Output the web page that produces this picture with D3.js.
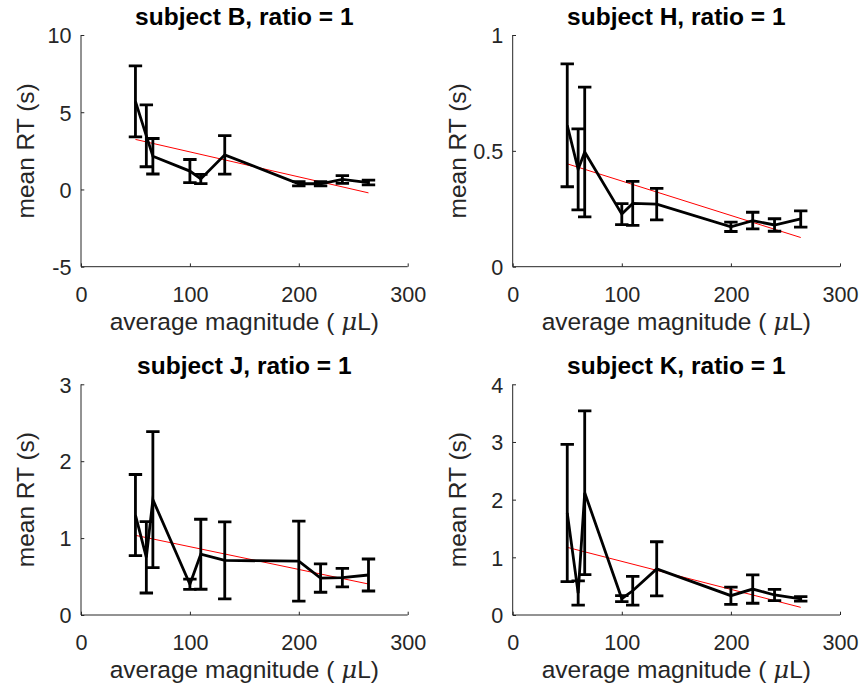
<!DOCTYPE html>
<html>
<head>
<meta charset="utf-8">
<script src="https://cdn.jsdelivr.net/npm/d3@7"></script>
<style>
  html, body { margin: 0; padding: 0; background: #fff; }
  svg { display: block; font-family: "Liberation Sans", Arial, Helvetica, sans-serif; }
</style>
</head>
<body>
<svg id="chart" width="861" height="696"></svg>
<script>
// ---- data ----
const magnitudes = [50, 60, 66, 100, 110, 132, 200, 220, 240, 264];
const subjects = ["B", "H", "J", "K"];

const meanB = [5.7, 3.47, 2.15, 1.19, 0.68, 2.24, 0.37, 0.37, 0.65, 0.45];
const errB  = [2.3, 2.0, 1.15, 0.75, 0.3, 1.25, 0.14, 0.14, 0.25, 0.15];
const fitB  = [3.24, -0.22];

const meanH = [0.61, 0.42, 0.495, 0.227, 0.273, 0.27, 0.172, 0.199, 0.18, 0.206];
const errH  = [0.265, 0.175, 0.28, 0.045, 0.095, 0.068, 0.02, 0.036, 0.027, 0.035];
const fitH  = [0.444, 0.126];

const meanJ = [1.30, 0.75, 1.50, 0.40, 0.79, 0.71, 0.70, 0.48, 0.486, 0.52];
const errJ  = [0.527, 0.464, 0.884, 0.067, 0.455, 0.50, 0.52, 0.184, 0.12, 0.208];
const fitJ  = [1.036, 0.403];

const meanK = [1.77, 0.38, 2.12, 0.283, 0.42, 0.80, 0.335, 0.45, 0.347, 0.28];
const errK  = [1.19, 0.21, 1.42, 0.052, 0.25, 0.47, 0.15, 0.246, 0.098, 0.038];
const fitK  = [1.173, 0.133];

const xTicks = [0, 100, 200, 300];
const xDomain = [0, 300];
const yDomains = [[-5, 10], [0, 1], [0, 3], [0, 4]];
const yTicks = [[-5, 0, 5, 10], [0, 0.5, 1], [0, 1, 2, 3], [0, 1, 2, 3, 4]];
const yTickLabels = [["-5", "0", "5", "10"], ["0", "0.5", "1"], ["0", "1", "2", "3"], ["0", "1", "2", "3", "4"]];

const means = [meanB, meanH, meanJ, meanK];
const errs = [errB, errH, errJ, errK];
const fits = [fitB, fitH, fitJ, fitK];

// ---- layout ----
const panels = [
  { left: 81, right: 407.7, top: 35, bottom: 266.7 },
  { left: 512.7, right: 840, top: 35, bottom: 266.7 },
  { left: 81, right: 407.7, top: 384.3, bottom: 615 },
  { left: 512.7, right: 840, top: 384.3, bottom: 615 }
];
const axisColor = "#262626";
const tickFont = 21.6;
const labelFont = 24.5;
const lineW = 2.8;

const svg = d3.select("#chart");

subjects.forEach((s, i) => {
  const p = panels[i];
  const x = d3.scaleLinear().domain(xDomain).range([p.left, p.right]);
  const y = d3.scaleLinear().domain(yDomains[i]).range([p.bottom, p.top]);
  const g = svg.append("g");

  // axes
  const xAxis = d3.axisBottom(x).tickValues(xTicks).tickSize(-3.3).tickFormat(d3.format("d"));
  const gx = g.append("g").attr("transform", `translate(0,${p.bottom})`).call(xAxis);
  gx.select(".domain").attr("d", `M${p.left},0H${p.right}`).attr("stroke", axisColor);
  gx.selectAll(".tick line").attr("stroke", axisColor);
  gx.selectAll(".tick text").attr("fill", axisColor).attr("font-size", tickFont)
    .attr("font-family", "Liberation Sans, Arial, sans-serif").attr("y", 35).attr("dy", 0);

  const labels = yTickLabels[i];
  const yAxis = d3.axisLeft(y).tickValues(yTicks[i]).tickSize(-3.3)
    .tickFormat((d, k) => labels[k]);
  const gy = g.append("g").attr("transform", `translate(${p.left},0)`).call(yAxis);
  gy.select(".domain").attr("d", `M0,${p.top}V${p.bottom}`).attr("stroke", axisColor);
  gy.selectAll(".tick line").attr("stroke", axisColor);
  gy.selectAll(".tick text").attr("fill", axisColor).attr("font-size", tickFont)
    .attr("font-family", "Liberation Sans, Arial, sans-serif").attr("x", -9.5).attr("dy", "0.36em");

  // fit line (red)
  const n = magnitudes.length;
  g.append("line")
    .attr("x1", x(magnitudes[0])).attr("y1", y(fits[i][0]))
    .attr("x2", x(magnitudes[n - 1])).attr("y2", y(fits[i][1]))
    .attr("stroke", "#ff0000").attr("stroke-width", 1);

  // error bars
  const data = magnitudes.map((m, k) => ({ x: m, y: means[i][k], e: errs[i][k] }));
  const capW = 6.7;
  const eb = g.append("g").attr("stroke", "#000").attr("stroke-width", lineW).attr("fill", "none");
  data.forEach(d => {
    const cx = x(d.x), yt = y(d.y + d.e), yb = y(d.y - d.e);
    eb.append("path").attr("d", `M${cx},${yt}V${yb}M${cx - capW},${yt}H${cx + capW}M${cx - capW},${yb}H${cx + capW}`);
  });

  // mean line
  g.append("path").datum(data)
    .attr("d", d3.line().x(d => x(d.x)).y(d => y(d.y)))
    .attr("fill", "none").attr("stroke", "#000").attr("stroke-width", lineW)
    .attr("stroke-linejoin", "miter");

  // title
  const cx = (p.left + p.right) / 2;
  g.append("text").attr("x", cx).attr("y", p.top - 10).attr("text-anchor", "middle")
    .attr("font-size", labelFont).attr("font-weight", "bold").attr("fill", "#000")
    .text(`subject ${s}, ratio = 1`);

  // x label
  const xl = g.append("text").attr("x", cx).attr("y", p.bottom + 63).attr("text-anchor", "middle")
    .attr("font-size", labelFont).attr("fill", axisColor);
  xl.append("tspan").text("average magnitude ( ");
  xl.append("tspan").attr("font-style", "italic").attr("font-family", "DejaVu Serif, serif").text("μ");
  xl.append("tspan").text("L)");

  // y label
  const cy = (p.top + p.bottom) / 2;
  g.append("text").attr("transform", `translate(${p.left - 47},${cy}) rotate(-90)`)
    .attr("text-anchor", "middle").attr("font-size", labelFont).attr("fill", axisColor)
    .text("mean RT (s)");
});
</script>
</body>
</html>
